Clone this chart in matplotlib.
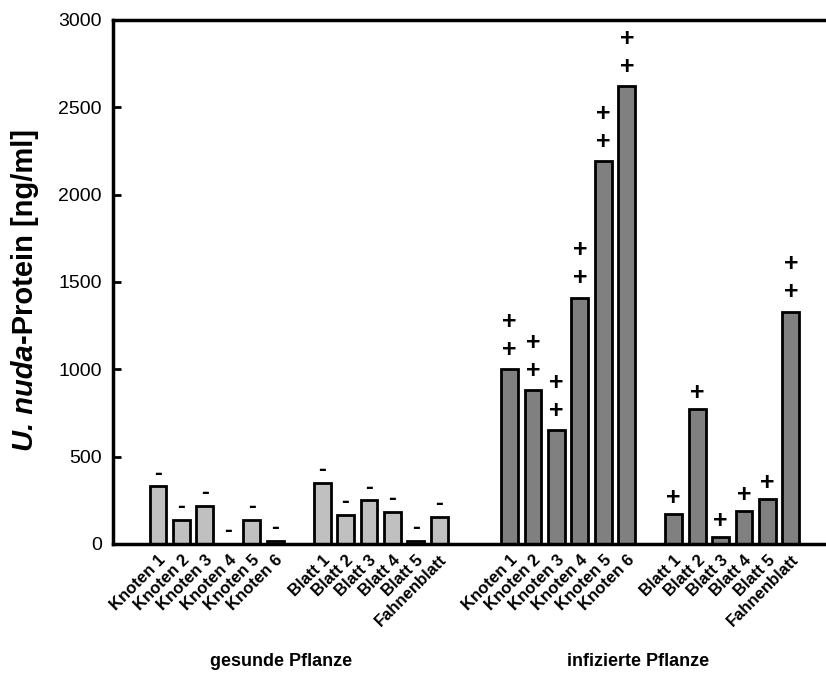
import matplotlib
matplotlib.use("Agg")
import matplotlib.pyplot as plt
import numpy as np

plt.rcParams['font.family'] = ['Liberation Sans', 'DejaVu Sans']

# Categories
knoten = ["Knoten 1", "Knoten 2", "Knoten 3", "Knoten 4", "Knoten 5", "Knoten 6"]
blatt = ["Blatt 1", "Blatt 2", "Blatt 3", "Blatt 4", "Blatt 5", "Fahnenblatt"]

# Protein concentration [ng/ml]
gesund_knoten = [330, 140, 220, 0, 140, 20]
gesund_blatt = [350, 165, 250, 185, 20, 155]
infiziert_knoten = [1000, 880, 650, 1410, 2190, 2620]
infiziert_blatt = [170, 775, 40, 190, 260, 1330]

# ELISA rating above each bar
gesund_knoten_marks = ["-", "-", "-", "-", "-", "-"]
gesund_blatt_marks = ["-", "-", "-", "-", "-", "-"]
infiziert_knoten_marks = ["++", "++", "++", "++", "++", "++"]
infiziert_blatt_marks = ["+", "+", "+", "+", "+", "++"]

group_names = ["gesunde Pflanze", "infizierte Pflanze"]
yticks = [0, 500, 1000, 1500, 2000, 2500, 3000]

# Slot layout: groups of six bars separated by empty slots
slots_gk = np.arange(0, 6)
slots_gb = np.arange(7, 13)
slots_ik = np.arange(15, 21)
slots_ib = np.arange(22, 28)

light = "#c0c0c0"
dark = "#808080"

fig = plt.figure(figsize=(8.26, 6.77), dpi=100)
ax = fig.add_axes([113 / 826, 1 - 544 / 677, 1 - 113 / 826, (544 - 20) / 677])

bw = 0.72
lw = 2.0
series = [
    (slots_gk, gesund_knoten, light, gesund_knoten_marks),
    (slots_gb, gesund_blatt, light, gesund_blatt_marks),
    (slots_ik, infiziert_knoten, dark, infiziert_knoten_marks),
    (slots_ib, infiziert_blatt, dark, infiziert_blatt_marks),
]
for xs, vals, col, marks in series:
    ax.bar(xs, vals, width=bw, color=col, edgecolor="black", linewidth=lw, zorder=2)
    for x, v, m in zip(xs, vals, marks):
        if m == "-":
            ax.annotate("-", (x, v), xytext=(0, 9.5), textcoords="offset points",
                        ha="center", va="center", fontsize=17, fontweight="bold")
        elif m == "+":
            ax.annotate("+", (x, v), xytext=(0, 11.5), textcoords="offset points",
                        ha="center", va="center", fontsize=18, fontweight="bold")
        else:
            for off in (14, 34):
                ax.annotate("+", (x, v), xytext=(0, off), textcoords="offset points",
                            ha="center", va="center", fontsize=18, fontweight="bold")

ax.set_xlim(-1.92, 28.5)
ax.set_ylim(0, 3000)
ax.set_yticks(yticks)
ax.set_yticklabels([str(t) for t in yticks], fontsize=14)

all_slots = np.concatenate([slots_gk, slots_gb, slots_ik, slots_ib])
all_labels = knoten + blatt + knoten + blatt
ax.set_xticks(all_slots)
ax.set_xticklabels(all_labels, rotation=45, ha="right", rotation_mode="anchor",
                   fontsize=12, fontweight="bold")
ax.tick_params(axis="x", length=0, pad=6)
ax.tick_params(axis="y", direction="in", length=6, width=2, pad=8)

for s in ("left", "bottom", "top"):
    ax.spines[s].set_linewidth(2.5)
ax.spines["right"].set_visible(False)

# Group captions below the category labels
fig.text(281 / 826, 1 - 662 / 677, group_names[0], ha="center", va="center",
         fontsize=13, fontweight="bold")
fig.text(638 / 826, 1 - 662 / 677, group_names[1], ha="center", va="center",
         fontsize=13, fontweight="bold")

# Y axis title: italic species name followed by the protein/unit part
xl = 25 / 826
t1 = fig.text(xl, 0.0, "U. nuda", rotation=90, rotation_mode="anchor",
              ha="left", va="center", fontsize=21, fontweight="bold", style="italic")
t2 = fig.text(xl, 0.0, "-Protein [ng/ml]", rotation=90, rotation_mode="anchor",
              ha="left", va="center", fontsize=21, fontweight="bold")
fig.canvas.draw()
r = fig.canvas.get_renderer()
h1 = t1.get_window_extent(r).height
h2 = t2.get_window_extent(r).height
total = h1 + h2
center_px = 677 - 290
y0 = center_px - total / 2
t1.set_position((xl, y0 / 677))
t2.set_position((xl, (y0 + h1) / 677))

fig.savefig("out.png", dpi=100)
